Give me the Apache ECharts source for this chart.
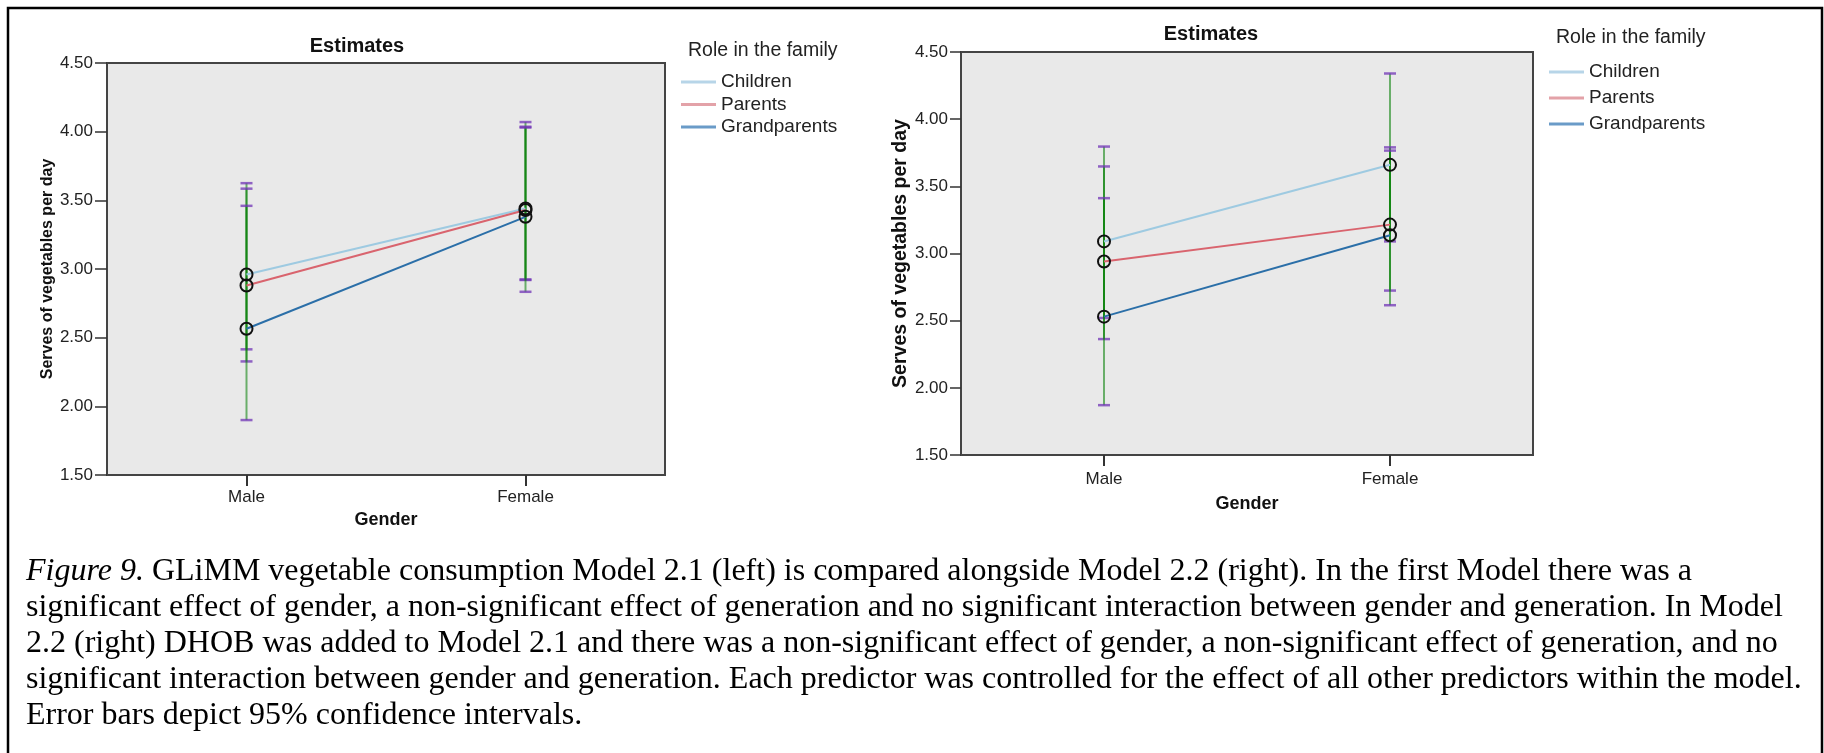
<!DOCTYPE html>
<html>
<head>
<meta charset="utf-8">
<script src="https://cdn.jsdelivr.net/npm/echarts@6/dist/echarts.min.js"></script>
<style>
  html, body { margin: 0; padding: 0; background: #fff; }
  #chart { width: 1824px; height: 753px; }
</style>
</head>
<body>
<div id="chart"></div>
<script>
// Gender categories on the x axis
const genders = ['Male', 'Female'];
const roles = ['Children', 'Parents', 'Grandparents'];
const yTicks = { min: 1.5, max: 4.5, interval: 0.5 };

// Model 2.1 estimates (left panel) and 95% CI bounds
const m21Children = [2.96, 3.44];
const m21ChildrenLow = [2.415, 2.92];
const m21ChildrenHigh = [3.625, 4.07];
const m21Parents = [2.88, 3.43];
const m21ParentsLow = [2.327, 2.924];
const m21ParentsHigh = [3.585, 4.036];
const m21Grand = [2.565, 3.38];
const m21GrandLow = [1.90, 2.834];
const m21GrandHigh = [3.46, 4.03];

// Model 2.2 estimates (right panel) and 95% CI bounds
const m22Children = [3.09, 3.66];
const m22ChildrenLow = [2.52, 3.09];
const m22ChildrenHigh = [3.796, 4.34];
const m22Parents = [2.94, 3.215];
const m22ParentsLow = [2.363, 2.724];
const m22ParentsHigh = [3.648, 3.79];
const m22Grand = [2.53, 3.136];
const m22GrandLow = [1.871, 2.615];
const m22GrandHigh = [3.412, 3.766];

const captionLines = [
  '{i|Figure 9.} GLiMM vegetable consumption Model 2.1 (left) is compared alongside Model 2.2 (right). In the first Model there was a',
  'significant effect of gender, a non-significant effect of generation and no significant interaction between gender and generation. In Model',
  '2.2 (right) DHOB was added to Model 2.1 and there was a non-significant effect of gender, a non-significant effect of generation, and no',
  'significant interaction between gender and generation. Each predictor was controlled for the effect of all other predictors within the model.',
  'Error bars depict 95% confidence intervals.'
];

const lineColors = ['#9ecae1', '#d9646e', '#2b6fa8'];
const legendColors = ['#b7d5e8', '#e3a2a8', '#6a9bc8'];
const SANS = '"Liberation Sans", Arial, sans-serif';
const SERIF = '"Liberation Serif", "Times New Roman", serif';

const panels = [
  {
    grid: { left: 107, top: 63, width: 558, height: 412 },
    means: [m21Children, m21Parents, m21Grand],
    lows: [m21ChildrenLow, m21ParentsLow, m21GrandLow],
    highs: [m21ChildrenHigh, m21ParentsHigh, m21GrandHigh],
    tickFont: 17, xNameGap: 34, xLabelMargin: 14, yLabelMargin: 14, yTickLen: 12,
    yNameFont: 16, yNameGap: 51,
    title: { x: 357, y: 46.5 },
    legend: { left: 681, top: 72, gap: 2.5, titleX: 688, titleY: 51 }
  },
  {
    grid: { left: 961, top: 52, width: 572, height: 403 },
    means: [m22Children, m22Parents, m22Grand],
    lows: [m22ChildrenLow, m22ParentsLow, m22GrandLow],
    highs: [m22ChildrenHigh, m22ParentsHigh, m22GrandHigh],
    tickFont: 17, xNameGap: 40, xLabelMargin: 16, yLabelMargin: 13, yTickLen: 11,
    yNameFont: 19.5, yNameGap: 48,
    title: { x: 1211, y: 34 },
    legend: { left: 1549, top: 62, gap: 6, titleX: 1556, titleY: 38 }
  }
];

// Error bar: green stem with purple caps
function renderErrorBar(params, api) {
  const lo = api.coord([api.value(0), api.value(1)]);
  const hi = api.coord([api.value(0), api.value(2)]);
  const half = 6;
  const capStyle = { stroke: 'rgba(112,52,182,0.75)', lineWidth: 2.5 };
  return {
    type: 'group',
    children: [
      { type: 'line', shape: { x1: lo[0], y1: lo[1], x2: hi[0], y2: hi[1] },
        style: { stroke: 'rgba(0,125,0,0.55)', lineWidth: 2 } },
      { type: 'line', shape: { x1: lo[0] - half, y1: lo[1], x2: lo[0] + half, y2: lo[1] }, style: capStyle },
      { type: 'line', shape: { x1: hi[0] - half, y1: hi[1], x2: hi[0] + half, y2: hi[1] }, style: capStyle }
    ]
  };
}

const grid = [], xAxis = [], yAxis = [], series = [], legend = [], graphic = [];

panels.forEach((p, gi) => {
  grid.push(Object.assign({ show: true, backgroundColor: '#e9e9e9', borderColor: '#444', borderWidth: 2 }, p.grid));
  xAxis.push({
    type: 'category', gridIndex: gi, data: genders, boundaryGap: true,
    name: 'Gender', nameLocation: 'middle', nameGap: p.xNameGap,
    nameTextStyle: { fontFamily: SANS, fontWeight: 'bold', fontSize: 18, color: '#111' },
    axisLine: { show: true, lineStyle: { color: '#444', width: 2 } },
    axisTick: { show: true, alignWithLabel: true, length: 11, lineStyle: { color: '#333', width: 2 } },
    axisLabel: { fontFamily: SANS, fontSize: p.tickFont, color: '#222', margin: p.xLabelMargin },
    splitLine: { show: false }
  });
  yAxis.push({
    type: 'value', gridIndex: gi, min: yTicks.min, max: yTicks.max, interval: yTicks.interval,
    name: 'Serves of vegetables per day', nameLocation: 'middle', nameGap: p.yNameGap,
    nameTextStyle: { fontFamily: SANS, fontWeight: 'bold', fontSize: p.yNameFont, color: '#111' },
    axisLine: { show: true, lineStyle: { color: '#444', width: 2 } },
    axisTick: { show: true, length: p.yTickLen, lineStyle: { color: '#333', width: 1.5 } },
    axisLabel: { fontFamily: SANS, fontSize: p.tickFont, color: '#222', margin: p.yLabelMargin,
      formatter: v => v.toFixed(2) },
    splitLine: { show: false }
  });

  roles.forEach((role, ri) => {
    series.push({
      type: 'custom', name: role + ' CI', xAxisIndex: gi, yAxisIndex: gi, z: 2,
      renderItem: renderErrorBar,
      encode: { x: 0, y: [1, 2] },
      data: genders.map((g, ci) => [ci, p.lows[ri][ci], p.highs[ri][ci]]),
      silent: true
    });
  });
  roles.forEach((role, ri) => {
    series.push({
      type: 'line', name: role, xAxisIndex: gi, yAxisIndex: gi, z: 3,
      data: p.means[ri],
      symbol: 'circle', symbolSize: 12, showSymbol: true,
      lineStyle: { color: lineColors[ri], width: 2 },
      itemStyle: { color: 'rgba(0,0,0,0)', borderColor: '#111', borderWidth: 2 },
      animation: false
    });
  });

  legend.push({
    orient: 'vertical', left: p.legend.left, top: p.legend.top, padding: 0,
    itemGap: p.legend.gap, itemWidth: 35, itemHeight: 3, icon: 'rect',
    textStyle: { fontFamily: SANS, fontSize: 19, color: '#222', lineHeight: 20 },
    data: roles.map((r, ri) => ({ name: r, itemStyle: { color: legendColors[ri], borderWidth: 0 } })),
    selectedMode: false
  });

  graphic.push({
    type: 'text', x: p.title.x, y: p.title.y,
    style: { text: 'Estimates', font: 'bold 20px ' + SANS, fill: '#111', align: 'center', verticalAlign: 'middle' }
  });
  graphic.push({
    type: 'text', x: p.legend.titleX, y: p.legend.titleY,
    style: { text: 'Role in the family', font: '19.5px ' + SANS, fill: '#222', align: 'left', verticalAlign: 'middle' }
  });
});

// Outer frame
graphic.push({
  type: 'rect', shape: { x: 8, y: 8, width: 1814, height: 800 },
  style: { fill: 'none', stroke: '#000', lineWidth: 2.5 }, z: 10
});

// Caption lines
captionLines.forEach((t, i) => {
  graphic.push({
    type: 'text', x: 26, y: 572 + i * 36,
    style: {
      text: t, x: 0, y: 0, font: '32px ' + SERIF, fill: '#000', align: 'left', verticalAlign: 'middle',
      rich: { i: { fontStyle: 'italic', fontFamily: SERIF, fontSize: 32, fill: '#000' } }
    }
  });
});

const chart = echarts.init(document.getElementById('chart'), null, { renderer: 'canvas' });
chart.setOption({
  backgroundColor: '#fff',
  animation: false,
  grid, xAxis, yAxis, series, legend, graphic
});
</script>
</body>
</html>
